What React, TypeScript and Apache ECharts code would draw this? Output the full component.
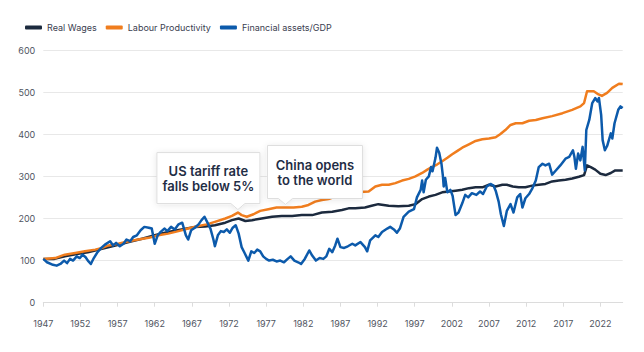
import React, { useEffect, useRef } from "react";
import * as echarts from "echarts";

const yearTicks = [1947, 1952, 1957, 1962, 1967, 1972, 1977, 1982, 1987, 1992, 1997, 2002, 2007, 2012, 2017, 2022];

const seriesNames = ["Real Wages", "Labour Productivity", "Financial assets/GDP"];

const realWages: [number, number][] = [
  [1947, 104], [1948.5, 104], [1949.9, 110], [1951.7, 116], [1953, 120], [1954.9, 128], [1956.7, 136],
  [1958.5, 144], [1960.3, 152], [1962, 160], [1963.8, 168], [1965.6, 174], [1967.4, 180], [1968.8, 181],
  [1970.1, 184], [1971.5, 190], [1972.4, 196], [1973.3, 200], [1974.2, 194], [1975.1, 196], [1976.4, 200],
  [1977.8, 204], [1979.1, 206], [1980.5, 206], [1981.8, 208], [1983.2, 208], [1984.5, 214], [1985.9, 216],
  [1987.2, 220], [1988.1, 224], [1989, 224], [1990.3, 226], [1991.2, 230], [1992.1, 234], [1993.5, 230],
  [1994.8, 229], [1996.2, 230], [1997.1, 234], [1998, 246], [1998.9, 252], [1999.8, 256], [2000.7, 262],
  [2001.6, 264], [2002.5, 266], [2003.4, 268], [2004.3, 272], [2005.2, 274], [2006.1, 274], [2007, 280],
  [2007.9, 276], [2008.8, 280], [2009.4, 280], [2010.2, 276], [2011, 274], [2011.9, 274], [2012.8, 278],
  [2013.7, 280], [2014.6, 282], [2015.5, 288], [2016.4, 290], [2017.3, 292], [2018.2, 295], [2019.1, 299],
  [2019.8, 303], [2020.2, 326], [2020.7, 322], [2021.3, 316], [2022, 306], [2022.7, 303], [2023.4, 308],
  [2024, 314], [2025, 314],
];

const labourProductivity: [number, number][] = [
  [1947, 104], [1948.6, 106], [1949.9, 114], [1951.3, 118], [1952.6, 122], [1954, 126], [1954.9, 130],
  [1955.8, 136], [1957.1, 140], [1958.5, 146], [1959.8, 150], [1961.2, 154], [1962.5, 160], [1963.8, 164],
  [1965.2, 170], [1966.5, 176], [1967.9, 182], [1969, 186], [1970.1, 192], [1971.5, 200], [1972.4, 206],
  [1973.2, 214], [1973.7, 208], [1974.4, 204], [1975.3, 210], [1976.2, 218], [1977.3, 222], [1978.4, 226],
  [1979.6, 226], [1980.7, 226], [1981.8, 228], [1982.7, 232], [1983.6, 240], [1984.5, 244], [1985.4, 246],
  [1986.3, 252], [1987.2, 256], [1988.1, 260], [1989, 262], [1990.8, 264], [1991.7, 276], [1992.6, 280],
  [1993.5, 280], [1994.4, 284], [1995.3, 290], [1996.2, 294], [1997.1, 300], [1998, 308], [1998.7, 316],
  [1999.3, 322], [2000, 328], [2000.7, 336], [2001.4, 344], [2002, 352], [2002.7, 360], [2003.4, 368],
  [2004.3, 376], [2005.2, 384], [2006.1, 388], [2007, 390], [2007.9, 393], [2008.5, 400], [2009.2, 410],
  [2009.9, 422], [2010.6, 426], [2011.5, 426], [2012.4, 432], [2013.3, 434], [2014.2, 438], [2015.5, 443],
  [2016.9, 450], [2018.2, 458], [2019.3, 466], [2019.8, 474], [2020.2, 502], [2021.1, 502], [2021.6, 496],
  [2022.2, 491], [2022.9, 498], [2023.6, 510], [2024.5, 520], [2025, 519],
];

const financialAssetsGdp: [number, number][] = [
  [1947, 104], [1947.5, 96], [1948.3, 90], [1948.8, 88], [1949.3, 92], [1949.8, 100], [1950.2, 94],
  [1950.6, 104], [1951, 100], [1951.5, 110], [1951.9, 106], [1952.3, 114], [1952.7, 108], [1953, 100],
  [1953.4, 92], [1953.8, 106], [1954.3, 120], [1954.8, 130], [1955.3, 138], [1956, 146], [1956.4, 136],
  [1956.8, 142], [1957.3, 134], [1957.8, 140], [1958.2, 150], [1958.7, 146], [1959.1, 156], [1959.6, 160],
  [1960.1, 172], [1960.6, 180], [1961.2, 178], [1961.6, 176], [1962, 140], [1962.4, 160], [1962.8, 168],
  [1963.3, 176], [1963.7, 170], [1964.2, 180], [1964.7, 174], [1965.2, 186], [1965.7, 190], [1966.2, 160],
  [1966.5, 150], [1966.9, 172], [1967.4, 178], [1967.9, 186], [1968.3, 196], [1968.7, 204], [1969.1, 190],
  [1969.5, 176], [1969.9, 150], [1970.1, 134], [1970.5, 160], [1970.9, 170], [1971.3, 168], [1971.7, 174],
  [1972.1, 166], [1972.5, 178], [1972.9, 184], [1973.3, 164], [1973.7, 132], [1974.1, 118], [1974.6, 100],
  [1975, 122], [1975.4, 118], [1975.8, 126], [1976.2, 122], [1976.6, 110], [1977, 104], [1977.4, 100],
  [1977.9, 102], [1978.4, 98], [1978.9, 100], [1979.4, 96], [1979.9, 104], [1980.3, 110], [1980.8, 100],
  [1981.3, 96], [1981.7, 92], [1982.2, 104], [1982.8, 124], [1983.2, 112], [1983.7, 100], [1984.2, 106],
  [1984.7, 104], [1985.1, 110], [1985.5, 128], [1985.9, 120], [1986.3, 136], [1986.6, 152], [1987, 132],
  [1987.5, 130], [1988, 134], [1988.6, 140], [1989, 136], [1989.7, 144], [1990.3, 132], [1990.6, 122],
  [1991, 148], [1991.7, 160], [1992.1, 156], [1992.6, 168], [1993.3, 176], [1993.7, 180], [1994.2, 174],
  [1994.6, 166], [1995, 176], [1995.5, 204], [1996.2, 216], [1996.9, 222], [1997.3, 250], [1997.8, 268],
  [1998, 290], [1998.2, 262], [1998.5, 292], [1998.9, 300], [1999.2, 322], [1999.4, 312], [1999.8, 344],
  [2000, 368], [2000.3, 356], [2000.6, 330], [2000.8, 300], [2000.9, 276], [2001.1, 296], [2001.4, 262],
  [2001.8, 268], [2002.1, 254], [2002.5, 208], [2002.9, 214], [2003.4, 236], [2003.8, 256], [2004.2, 250],
  [2004.7, 260], [2005.3, 256], [2005.8, 264], [2006.2, 258], [2006.7, 276], [2007.2, 282], [2007.6, 278],
  [2007.9, 266], [2008.3, 240], [2008.6, 210], [2009, 182], [2009.4, 218], [2009.9, 234], [2010.3, 214],
  [2010.8, 250], [2011.2, 258], [2011.5, 226], [2011.9, 248], [2012.4, 258], [2012.8, 270], [2013.3, 290],
  [2013.7, 322], [2014.2, 330], [2014.6, 326], [2015.1, 330], [2015.5, 304], [2016, 314], [2016.6, 326],
  [2017.3, 342], [2017.8, 346], [2018.3, 362], [2018.5, 346], [2018.7, 318], [2019, 354], [2019.3, 338],
  [2019.6, 370], [2019.9, 314], [2020.1, 410], [2020.5, 434], [2020.9, 474], [2021.3, 486], [2021.6, 478],
  [2021.8, 486], [2022.1, 446], [2022.3, 386], [2022.6, 362], [2022.9, 372], [2023.4, 402], [2023.6, 390],
  [2023.9, 426], [2024.4, 458], [2024.7, 466], [2025, 462],
];

const annotationTexts = [
  ["US tariff rate", "falls below 5%"],
  ["China opens", "to the world"],
];
const annotationAnchors: [number, number][] = [
  [1973.2, 214],
  [1979.6, 226],
];

// layout of the callouts relative to their pointer tip (pixels)
const calloutLayout = [
  { left: 81, right: 22, up: 57 },
  { left: 18, right: 77, up: 59 },
];

const COLORS = ["#1c2a3e", "#f07d1e", "#0c5aab"];
const FONT = "Inter, 'Noto Sans', sans-serif";

export default function App() {
  const ref = useRef<HTMLDivElement>(null);

  useEffect(() => {
    const chart = echarts.init(ref.current!, null, { renderer: "svg" });
    const datasets = [realWages, labourProductivity, financialAssetsGdp];
    chart.setOption({
      animation: false,
      textStyle: { fontFamily: FONT },
      legend: {
        left: 20,
        top: 18,
        icon: "roundRect",
        itemWidth: 17,
        itemHeight: 4,
        itemGap: 9,
        textStyle: { fontSize: 9, color: "#3a4050", fontFamily: FONT },
        data: seriesNames,
      },
      grid: { left: 43.3, right: 21.3, top: 50, bottom: 49.3, containLabel: false },
      xAxis: {
        type: "value",
        min: 1947,
        max: 2025,
        axisLine: { show: true, lineStyle: { color: "#dcdcdc" } },
        axisTick: { show: true, length: 4, lineStyle: { color: "#dcdcdc" }, customValues: yearTicks },
        axisLabel: {
          customValues: yearTicks,
          formatter: (v: number) => String(v),
          fontSize: 9,
          color: "#50555f",
          margin: 16,
          fontFamily: FONT,
        },
        splitLine: { show: false },
      },
      yAxis: {
        type: "value",
        min: 0,
        max: 600,
        interval: 100,
        axisLine: { show: false },
        axisTick: { show: false },
        axisLabel: { fontSize: 9, color: "#50555f", margin: 8, fontFamily: FONT },
        splitLine: { lineStyle: { color: "#e8e8e8", width: 1 } },
      },
      series: seriesNames.map((name, i) => ({
        name,
        type: "line",
        data: datasets[i],
        showSymbol: false,
        symbol: "none",
        color: COLORS[i],
        lineStyle: { width: 2.5, color: COLORS[i], join: "round" },
        z: 2 + i,
      })),
    });

    const graphics: any[] = [];
    annotationAnchors.forEach((anchor, i) => {
      const p = chart.convertToPixel({ gridIndex: 0 }, anchor) as number[];
      const tx = p[0];
      const ty = p[1] - 3;
      const lay = calloutLayout[i];
      const L = tx - lay.left;
      const R = tx + lay.right;
      const B = ty - 6;
      const T = ty - lay.up;
      graphics.push({
        type: "polygon",
        z: 100,
        shape: {
          points: [[L, T], [R, T], [R, B], [tx + 7, B], [tx, ty], [tx - 7, B], [L, B]],
        },
        style: {
          fill: "#ffffff",
          stroke: "#dedede",
          lineWidth: 1,
          shadowBlur: 6,
          shadowColor: "rgba(0,0,0,0.10)",
          shadowOffsetY: 1,
        },
      });
      graphics.push({
        type: "text",
        z: 101,
        x: (L + R) / 2,
        y: (T + B) / 2,
        style: {
          text: annotationTexts[i].join("\n"),
          align: "center",
          verticalAlign: "middle",
          fontSize: 13,
          fontWeight: 600,
          fontFamily: FONT,
          lineHeight: 15,
          fill: "#1f2d45",
        },
      });
    });
    chart.setOption({ graphic: graphics });

    return () => chart.dispose();
  }, []);

  return (
    <div
      ref={ref}
      style={{ position: "absolute", left: 0, top: 0, width: 644, height: 352, background: "#fff" }}
    />
  );
}
